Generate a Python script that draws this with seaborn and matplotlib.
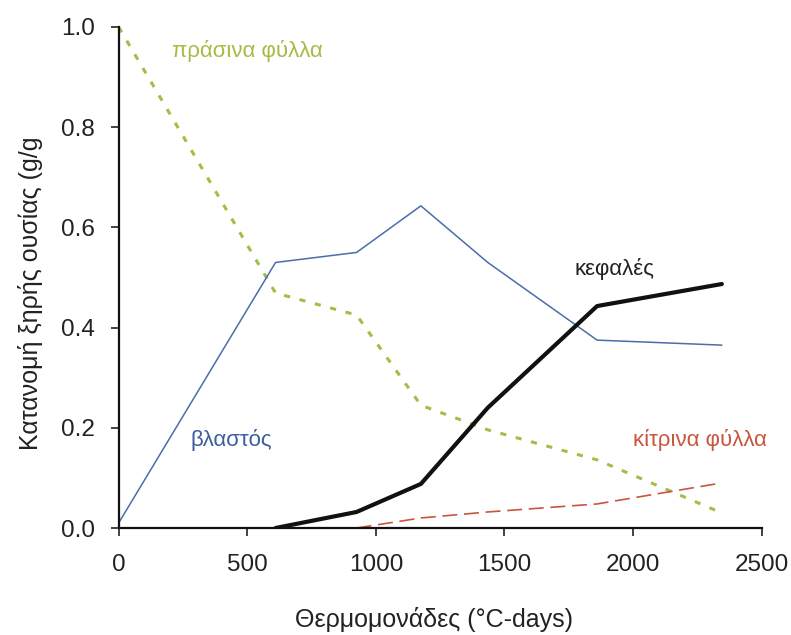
import matplotlib
matplotlib.use("Agg")
import matplotlib.pyplot as plt
import seaborn as sns
import pandas as pd

# Thermal time (°C-days) at each sampling date
thermal_time = [0, 610, 925, 1175, 1435, 1860, 2345]

# Dry matter partitioning (g/g) per plant organ
stem = [0.01, 0.53, 0.55, 0.643, 0.53, 0.375, 0.365]
heads = [None, 0.0, 0.032, 0.088, 0.24, 0.443, 0.487]
green_leaves = [1.0, 0.469, 0.425, 0.245, 0.196, 0.136, 0.03]
yellow_leaves = [None, None, 0.0, 0.02, 0.032, 0.048, 0.09]

sns.set_style("ticks")
plt.rcParams["font.family"] = ["Liberation Sans", "DejaVu Sans"]

df = pd.DataFrame({
    "x": thermal_time,
    "stem": stem,
    "heads": heads,
    "green": green_leaves,
    "yellow": yellow_leaves,
})

fig = plt.figure(figsize=(7.91, 6.35), dpi=100)
ax = fig.add_axes([0.150, 0.1685, 0.813, 0.789])

green_c = "#a3bd45"
blue_c = "#4a6ea8"
red_c = "#c9553f"

sns.lineplot(data=df, x="x", y="green", ax=ax, color=green_c, lw=2.2,
             linestyle=(0, (2.0, 3.2)))
sns.lineplot(data=df, x="x", y="yellow", ax=ax, color=red_c, lw=1.2,
             linestyle=(0, (9, 4)))
sns.lineplot(data=df, x="x", y="stem", ax=ax, color=blue_c, lw=1.1)
sns.lineplot(data=df, x="x", y="heads", ax=ax, color="#111111", lw=3.0)

ax.set_xlim(0, 2500)
ax.set_ylim(0, 1.0)
ax.set_xticks([0, 500, 1000, 1500, 2000, 2500])
ax.set_yticks([0.0, 0.2, 0.4, 0.6, 0.8, 1.0])
ax.set_yticklabels(["0.0", "0.2", "0.4", "0.6", "0.8", "1.0"])
ax.tick_params(axis="both", labelsize=17.5, length=6, width=1.2,
               colors="#222222")
ax.tick_params(axis="y", pad=11)
ax.tick_params(axis="x", pad=13)
for s in ["left", "bottom"]:
    ax.spines[s].set_linewidth(1.6)
    ax.spines[s].set_color("#111111")
sns.despine(ax=ax)

ax.set_xlabel("Θερμομονάδες (°C-days)", fontsize=18, color="#222222")
ax.set_ylabel("Κατανομή ξηρής ουσίας (g/g", fontsize=18, color="#222222")
ax.xaxis.set_label_coords(0.491, -0.158)
ax.yaxis.set_label_coords(-0.118, 0.469)

lab = dict(fontsize=16, va="center", ha="left")
ax.text(207, 0.952, "πράσινα φύλλα", color=green_c, **lab)
ax.text(281, 0.176, "βλαστός", color="#3d5f9e", **lab)
ax.text(1771, 0.516, "κεφαλές", color="#222222", **lab)
ax.text(2001, 0.176, "κίτρινα φύλλα", color=red_c, **lab)

fig.savefig("out.png", dpi=100)
